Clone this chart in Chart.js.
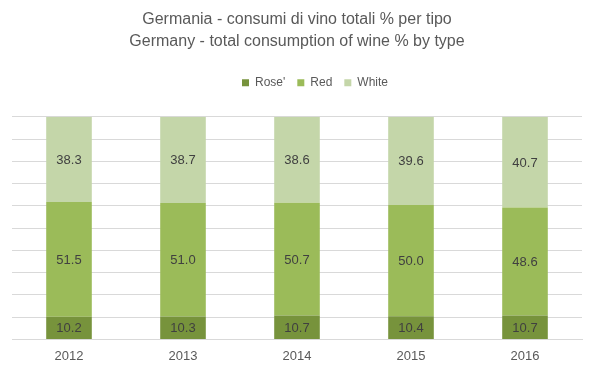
<!DOCTYPE html>
<html>
<head>
<meta charset="utf-8">
<script src="https://cdn.jsdelivr.net/npm/chart.js@4"></script>
<style>
  body { margin: 0; background: #fff; }
  #wrap { width: 600px; height: 378px; }
</style>
</head>
<body>
<div id="wrap"><canvas id="chart"></canvas></div>
<script>
// dati
const years = ['2012', '2013', '2014', '2015', '2016'];
const rose = [10.2, 10.3, 10.7, 10.4, 10.7];
const red = [51.5, 51.0, 50.7, 50.0, 48.6];
const white = [38.3, 38.7, 38.6, 39.6, 40.7];

const fontFamily = '"Liberation Sans Narrow", "Liberation Sans", Arial, sans-serif';

// etichette dentro le barre
const barLabels = {
    id: 'barLabels',
    afterDatasetsDraw(chart) {
        const ctx = chart.ctx;
        ctx.save();
        ctx.font = '13px ' + fontFamily;
        ctx.fillStyle = '#404040';
        ctx.textAlign = 'center';
        ctx.textBaseline = 'middle';
        chart.data.datasets.forEach((ds, i) => {
            chart.getDatasetMeta(i).data.forEach((bar, j) => {
                const mid = (bar.y + bar.base) / 2;
                ctx.fillText(ds.data[j].toFixed(1), bar.x, mid + 1);
            });
        });
        ctx.restore();
    }
};

// spazio sotto la legenda e leggero spostamento a destra
const legendSpace = {
    id: 'legendSpace',
    beforeInit(chart) {
        const fit = chart.legend.fit;
        chart.legend.fit = function () {
            fit.call(this);
            this.height += 18;
        };
    },
    afterLayout(chart) {
        chart.legend.left += 18;
        chart.legend.right += 18;
    }
};

new Chart(document.getElementById('chart'), {
    type: 'bar',
    data: {
        labels: years,
        datasets: [
            { label: "Rose'", data: rose, backgroundColor: '#77933C' },
            { label: 'Red', data: red, backgroundColor: '#9BBB59' },
            { label: 'White', data: white, backgroundColor: '#C4D6A9' }
        ]
    },
    options: {
        responsive: true,
        maintainAspectRatio: false,
        animation: false,
        layout: { padding: { left: 12, right: 18, top: 8, bottom: 13 } },
        datasets: { bar: { categoryPercentage: 1, barPercentage: 0.4 } },
        plugins: {
            title: {
                display: true,
                text: ['Germania - consumi di vino totali % per tipo', 'Germany - total consumption of wine % by type'],
                color: '#595959',
                font: { family: fontFamily, size: 16, weight: 'normal', lineHeight: 1.4 },
                padding: { top: 0, bottom: 12 }
            },
            legend: {
                labels: {
                    color: '#595959',
                    font: { family: fontFamily, size: 12 },
                    boxWidth: 7,
                    boxHeight: 7,
                    padding: 12
                }
            },
            tooltip: { enabled: false }
        },
        scales: {
            x: {
                stacked: true,
                grid: { display: false },
                border: { color: '#D9D9D9' },
                ticks: { color: '#595959', padding: 1, font: { family: fontFamily, size: 13 } }
            },
            y: {
                stacked: true,
                min: 0,
                max: 100,
                ticks: { display: false, stepSize: 10 },
                grid: { color: '#D9D9D9', drawTicks: false },
                border: { display: false }
            }
        }
    },
    plugins: [barLabels, legendSpace]
});
</script>
</body>
</html>
